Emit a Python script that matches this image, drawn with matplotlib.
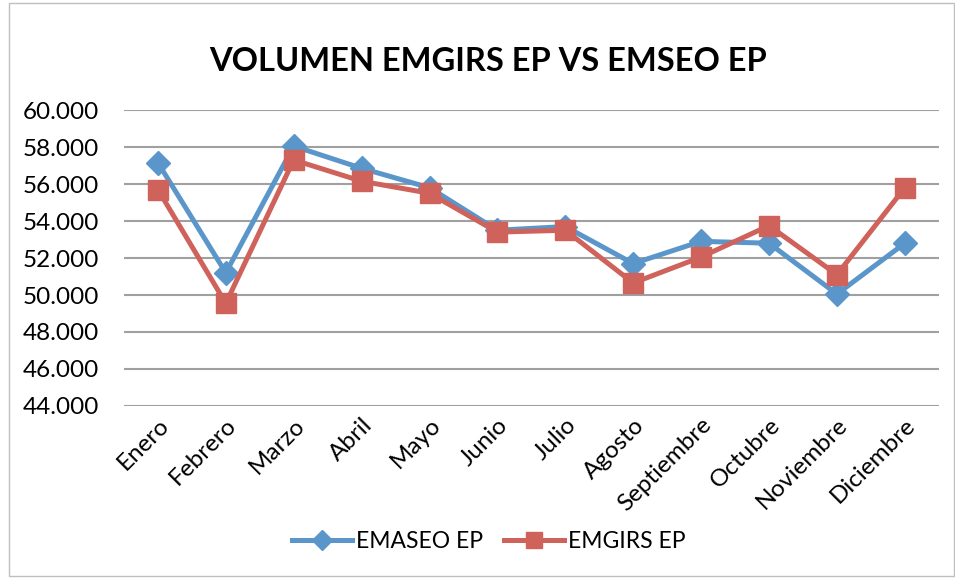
import matplotlib.pyplot as plt
from matplotlib.patches import Rectangle
from matplotlib.ticker import FuncFormatter

meses = ["Enero", "Febrero", "Marzo", "Abril", "Mayo", "Junio", "Julio",
         "Agosto", "Septiembre", "Octubre", "Noviembre", "Diciembre"]
emaseo = [57150, 51200, 58050, 56850, 55800, 53500, 53700,
          51700, 52900, 52800, 50050, 52800]
emgirs = [55700, 49550, 57300, 56150, 55500, 53400, 53500,
          50650, 52050, 53750, 51100, 55800]

plt.rcParams['font.family'] = ['Lato', 'DejaVu Sans']

fig = plt.figure(figsize=(9.55, 5.79), dpi=100)
ax = fig.add_axes([0.1298, 0.2988, 0.8532, 0.5112])

x = range(len(meses))
ax.plot(x, emaseo, color='#5B96CB', lw=3.6, marker='D', markersize=12,
        label='EMASEO EP')
ax.plot(x, emgirs, color='#CF625B', lw=3.6, marker='s', markersize=14,
        label='EMGIRS EP')

ax.set_xlim(-0.5, len(meses) - 0.5)
ax.set_ylim(44000, 60000)
ax.set_yticks(range(44000, 60001, 2000))
ax.yaxis.set_major_formatter(FuncFormatter(lambda v, p: f"{int(v):,}".replace(",", ".")))
ax.grid(axis='y', color='#A0A0A0', lw=1.5)
ax.set_axisbelow(True)
for s in ax.spines.values():
    s.set_visible(False)
ax.tick_params(length=0, labelsize=17.5)
ax.tick_params(axis='y', pad=18)
ax.tick_params(axis='x', pad=6)
ax.set_xticks(list(x))
ax.set_xticklabels(meses, rotation=45, ha='right', rotation_mode='anchor')

fig.text(0.511, 0.893, "VOLUMEN EMGIRS EP VS EMSEO EP", ha='center', va='center',
         fontsize=23.5, fontweight='bold')

leg = fig.legend(loc='center', bbox_to_anchor=(0.512, 0.065), ncol=2, frameon=False,
                 fontsize=16.5, handlelength=2.6, columnspacing=0.9, handletextpad=0.2,
                 markerscale=0.85)

fig.add_artist(Rectangle((0.009, 0.005), 0.99, 0.99, transform=fig.transFigure,
                         fill=False, edgecolor='#BFBFBF', lw=1))

fig.savefig("out.png", dpi=100)
